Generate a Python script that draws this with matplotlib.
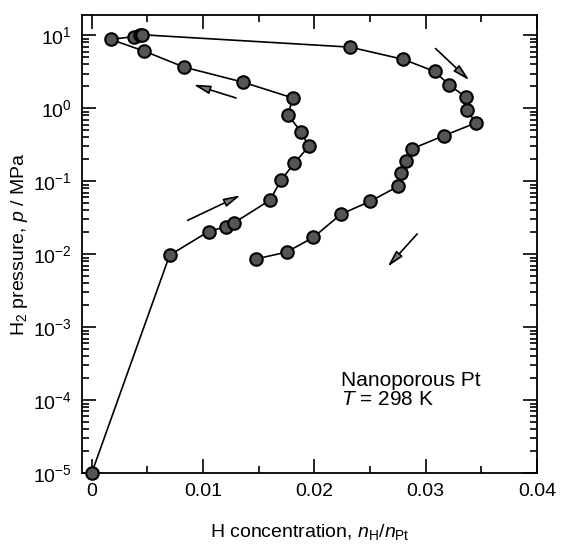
import matplotlib.pyplot as plt
from matplotlib.ticker import MultipleLocator, FixedLocator, LogLocator, NullFormatter

plt.rcParams['font.family'] = 'Liberation Sans'
plt.rcParams['mathtext.fontset'] = 'custom'
plt.rcParams['mathtext.rm'] = 'Liberation Sans'
plt.rcParams['mathtext.it'] = 'Liberation Sans:italic'

# H concentration (nH/nPt) and H2 pressure (MPa), in measurement order
conc = [0.0, 0.0070, 0.0105, 0.0121, 0.0128, 0.0160, 0.0170, 0.0182, 0.0195,
        0.0188, 0.0176, 0.0181, 0.0136, 0.0083, 0.0047, 0.0017,
        0.0038, 0.0043, 0.0045, 0.0232, 0.0280, 0.0308, 0.0321, 0.0336,
        0.0337, 0.0345, 0.0316, 0.0288, 0.0282, 0.0278, 0.0275, 0.0250,
        0.0224, 0.0199, 0.0175, 0.0148]
pressure = [1e-5, 0.0097, 0.0205, 0.024, 0.027, 0.055, 0.103, 0.178, 0.30,
            0.48, 0.815, 1.38, 2.28, 3.67, 6.1, 8.8,
            9.6, 10.0, 10.2, 6.9, 4.68, 3.2, 2.1, 1.42,
            0.96, 0.63, 0.42, 0.28, 0.19, 0.13, 0.085, 0.053,
            0.0355, 0.017, 0.0107, 0.00865]

# arrows: (tail x, tail p, head x, head p)
arrows = [(0.0084, 0.0281, 0.0136, 0.0668),
          (0.0132, 1.35, 0.0089, 2.17),
          (0.0307, 7.0, 0.0341, 2.28),
          (0.0294, 0.0203, 0.0264, 0.0063)]

fig = plt.figure(figsize=(5.63, 5.56), dpi=100)
ax = fig.add_axes([0.145, 0.149, 0.809, 0.824])

ax.plot(conc, pressure, color='black', lw=1.2, marker='o', markersize=9,
        markerfacecolor='#555555', markeredgecolor='black', markeredgewidth=1.5,
        clip_on=False, zorder=3)

for x0, y0, x1, y1 in arrows:
    ax.annotate('', xy=(x1, y1), xytext=(x0, y0),
                arrowprops=dict(arrowstyle='-|>,head_length=1.0,head_width=0.25',
                                lw=1.2, fc='#777777', ec='black'))

ax.set_yscale('log')
ax.set_xlim(-0.0009, 0.04)
ax.set_ylim(1e-5, 19)

ax.xaxis.set_major_locator(FixedLocator([0, 0.01, 0.02, 0.03, 0.04]))
ax.set_xticklabels(['0', '0.01', '0.02', '0.03', '0.04'])
ax.xaxis.set_minor_locator(MultipleLocator(0.005))
ax.yaxis.set_major_locator(LogLocator(base=10, numticks=20))
ax.yaxis.set_minor_locator(LogLocator(base=10, subs=range(2, 10), numticks=20))
ax.yaxis.set_minor_formatter(NullFormatter())

ax.tick_params(which='both', direction='in', top=True, right=True,
               labelsize=14, width=1.2)
ax.tick_params(which='major', length=10, pad=7)
ax.tick_params(which='minor', length=5)
for s in ax.spines.values():
    s.set_linewidth(1.3)

ax.set_xlabel('H concentration, $n_\\mathrm{H}/n_\\mathrm{Pt}$', fontsize=14, labelpad=16)
ax.set_ylabel('H$_2$ pressure, $p$ / MPa', fontsize=14, labelpad=2)

ax.text(0.0224, 1.4e-4, 'Nanoporous Pt\n$T$ = 298 K', fontsize=15,
        linespacing=1.0, va='center')

fig.savefig('out.png', dpi=100)
